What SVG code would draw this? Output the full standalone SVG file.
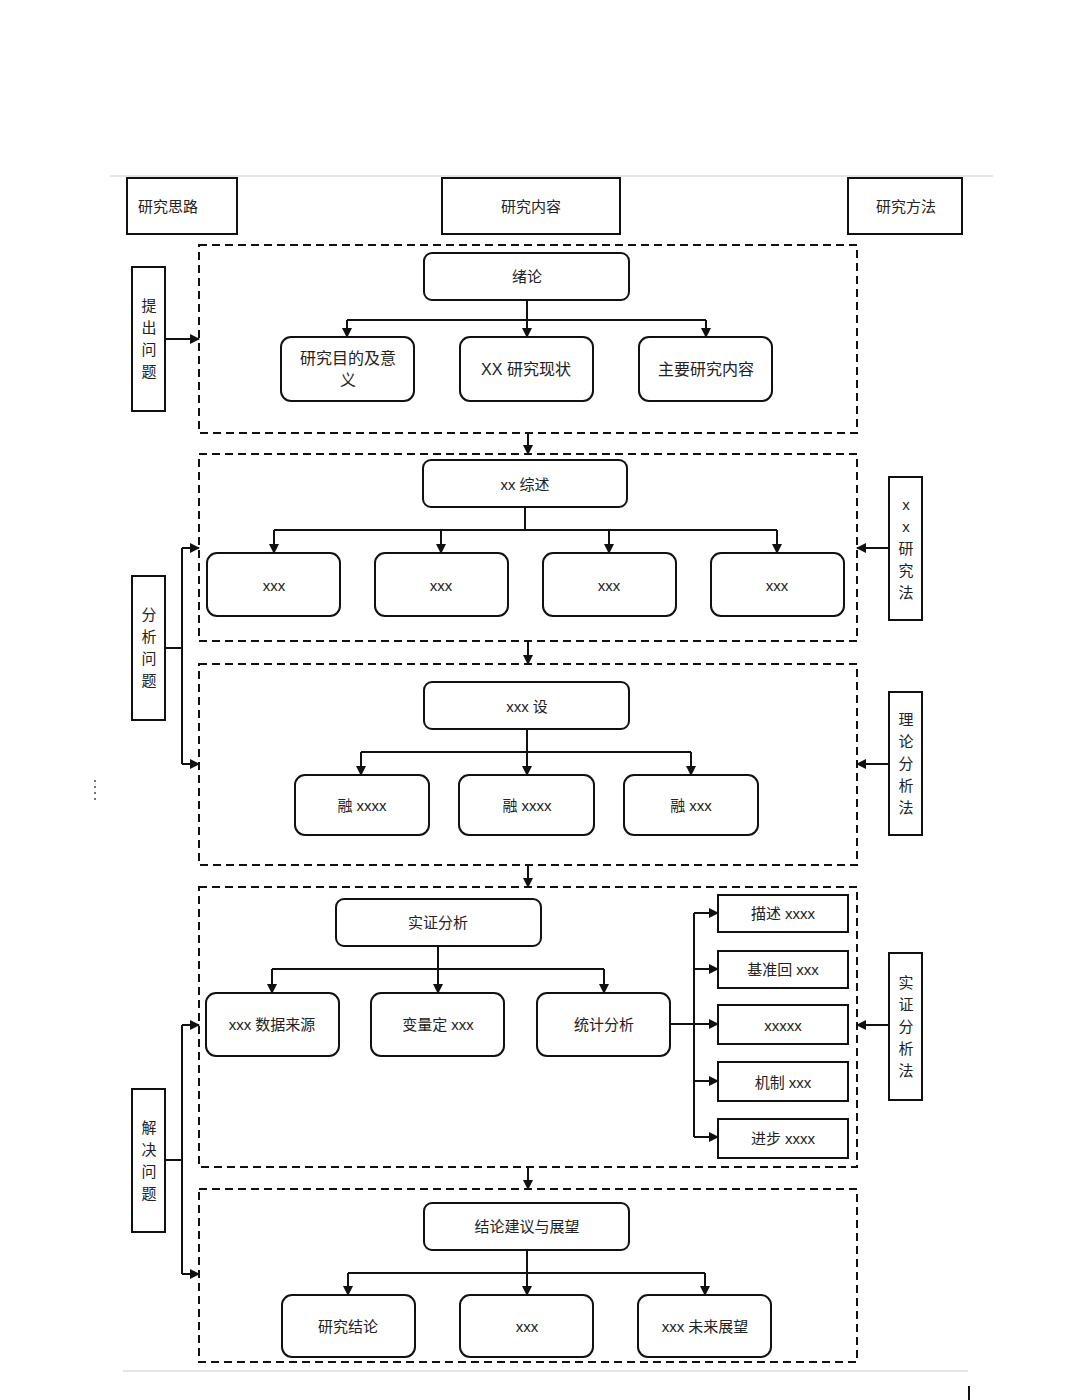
<svg xmlns="http://www.w3.org/2000/svg" width="1080" height="1400" viewBox="0 0 1080 1400">
<defs>
<marker id="a" viewBox="0 0 10 10" refX="9" refY="5" markerWidth="5" markerHeight="5" orient="auto"><path d="M0,0L10,5L0,10z" fill="#111"/></marker>
<style>
text{font-family:"Liberation Sans","Noto Sans CJK SC",sans-serif;font-size:15px;fill:#222;text-anchor:middle;dominant-baseline:central}
.r{fill:#fff;stroke:#111;stroke-width:2}
.d{fill:none;stroke:#111;stroke-width:2;stroke-dasharray:8,5}
.c{fill:none;stroke:#111;stroke-width:2}
.ca{fill:none;stroke:#111;stroke-width:2;marker-end:url(#a)}
.g{stroke:#ccc;stroke-width:1}
</style>
</defs>
<rect width="1080" height="1400" fill="#fff"/>
<line class="g" x1="110" y1="176" x2="993" y2="176"/>
<line class="g" x1="123" y1="1371" x2="968" y2="1371"/>
<line x1="969" y1="1386" x2="969" y2="1400" stroke="#111" stroke-width="2"/>
<line x1="95" y1="780" x2="95" y2="802" stroke="#777" stroke-width="2" stroke-dasharray="2,4"/>

<g id="sections">
<rect class="d" x="199" y="245" width="658" height="188"/>
<rect class="d" x="199" y="454" width="658" height="187"/>
<rect class="d" x="199" y="664" width="658" height="201"/>
<rect class="d" x="199" y="887" width="658" height="280"/>
<rect class="d" x="199" y="1189" width="658" height="173"/>
</g>

<g id="connectors">
<path class="ca" d="M528,433V454"/><path class="ca" d="M528,641V664"/><path class="ca" d="M528,865V887"/><path class="ca" d="M528,1167V1189"/>
<path class="c" d="M527,300V320M347,320H706"/><path class="ca" d="M347,320V337"/><path class="ca" d="M527,320V337"/><path class="ca" d="M706,320V337"/>
<path class="c" d="M525,507V530M274,530H777"/><path class="ca" d="M274,530V553"/><path class="ca" d="M441,530V553"/><path class="ca" d="M609,530V553"/><path class="ca" d="M777,530V553"/>
<path class="c" d="M527,729V752M361,752H691"/><path class="ca" d="M361,752V775"/><path class="ca" d="M527,752V775"/><path class="ca" d="M691,752V775"/>
<path class="c" d="M438,946V969M272,969H604"/><path class="ca" d="M272,969V993"/><path class="ca" d="M438,969V993"/><path class="ca" d="M604,969V993"/>
<path class="c" d="M670,1024H694M694,913V1137"/><path class="ca" d="M694,913H718"/><path class="ca" d="M694,969H718"/><path class="ca" d="M694,1024H718"/><path class="ca" d="M694,1081H718"/><path class="ca" d="M694,1137H718"/>
<path class="c" d="M527,1250V1273M348,1273H705"/><path class="ca" d="M348,1273V1295"/><path class="ca" d="M527,1273V1295"/><path class="ca" d="M705,1273V1295"/>
<path class="ca" d="M165,339H199"/>
<path class="c" d="M165,648H182M182,548V764"/><path class="ca" d="M182,548H199"/><path class="ca" d="M182,764H199"/>
<path class="c" d="M165,1160H182M182,1025V1274"/><path class="ca" d="M182,1025H199"/><path class="ca" d="M182,1274H199"/>
<path class="ca" d="M889,548H857"/><path class="ca" d="M889,764H857"/><path class="ca" d="M889,1025H857"/>
</g>

<g id="h1"><rect class="r" x="127" y="178" width="110" height="56"/><text x="168" y="206">研究思路</text></g>
<g id="h2"><rect class="r" x="442" y="178" width="178" height="56"/><text x="531" y="206">研究内容</text></g>
<g id="h3"><rect class="r" x="848" y="178" width="114" height="56"/><text x="906" y="206">研究方法</text></g>

<g id="n1"><rect class="r" x="424" y="253" width="205" height="47" rx="8"/><text x="527" y="276">绪论</text></g>
<g id="n1a"><rect class="r" x="281" y="337" width="133" height="64" rx="10"/><text x="348" y="358" style="font-size:16px">研究目的及意</text><text x="348" y="380" style="font-size:16px">义</text></g>
<g id="n1b"><rect class="r" x="460" y="337" width="133" height="64" rx="10"/><text x="526" y="369" style="font-size:16px">XX 研究现状</text></g>
<g id="n1c"><rect class="r" x="639" y="337" width="133" height="64" rx="10"/><text x="706" y="369" style="font-size:16px">主要研究内容</text></g>

<g id="n2"><rect class="r" x="423" y="460" width="204" height="47" rx="8"/><text x="525" y="484">xx 综述</text></g>
<g id="n2a"><rect class="r" x="207" y="553" width="133" height="63" rx="10"/><text x="274" y="585">xxx</text></g>
<g id="n2b"><rect class="r" x="375" y="553" width="133" height="63" rx="10"/><text x="441" y="585">xxx</text></g>
<g id="n2c"><rect class="r" x="543" y="553" width="133" height="63" rx="10"/><text x="609" y="585">xxx</text></g>
<g id="n2d"><rect class="r" x="711" y="553" width="133" height="63" rx="10"/><text x="777" y="585">xxx</text></g>

<g id="n3"><rect class="r" x="424" y="682" width="205" height="47" rx="8"/><text x="527" y="706">xxx 设</text></g>
<g id="n3a"><rect class="r" x="295" y="775" width="134" height="60" rx="10"/><text x="362" y="805">融 xxxx</text></g>
<g id="n3b"><rect class="r" x="459" y="775" width="135" height="60" rx="10"/><text x="527" y="805">融 xxxx</text></g>
<g id="n3c"><rect class="r" x="624" y="775" width="134" height="60" rx="10"/><text x="691" y="805">融 xxx</text></g>

<g id="n4"><rect class="r" x="336" y="899" width="205" height="47" rx="8"/><text x="438" y="922">实证分析</text></g>
<g id="n4a"><rect class="r" x="206" y="993" width="133" height="63" rx="10"/><text x="272" y="1024">xxx 数据来源</text></g>
<g id="n4b"><rect class="r" x="371" y="993" width="133" height="63" rx="10"/><text x="438" y="1024">变量定 xxx</text></g>
<g id="n4c"><rect class="r" x="537" y="993" width="133" height="63" rx="10"/><text x="604" y="1024">统计分析</text></g>
<g id="m1"><rect class="r" x="718" y="895" width="130" height="37"/><text x="783" y="913">描述 xxxx</text></g>
<g id="m2"><rect class="r" x="718" y="951" width="130" height="37"/><text x="783" y="969">基准回 xxx</text></g>
<g id="m3"><rect class="r" x="718" y="1005" width="130" height="39"/><text x="783" y="1025">xxxxx</text></g>
<g id="m4"><rect class="r" x="718" y="1062" width="130" height="39"/><text x="783" y="1082">机制 xxx</text></g>
<g id="m5"><rect class="r" x="718" y="1119" width="130" height="39"/><text x="783" y="1138">进步 xxxx</text></g>

<g id="n5"><rect class="r" x="424" y="1203" width="205" height="47" rx="8"/><text x="527" y="1226">结论建议与展望</text></g>
<g id="n5a"><rect class="r" x="282" y="1295" width="133" height="62" rx="10"/><text x="348" y="1326">研究结论</text></g>
<g id="n5b"><rect class="r" x="460" y="1295" width="133" height="62" rx="10"/><text x="527" y="1326">xxx</text></g>
<g id="n5c"><rect class="r" x="638" y="1295" width="133" height="62" rx="10"/><text x="705" y="1326">xxx 未来展望</text></g>

<g id="l1"><rect class="r" x="132" y="267" width="33" height="144"/><text x="149" y="305">提</text><text x="149" y="327">出</text><text x="149" y="349">问</text><text x="149" y="371">题</text></g>
<g id="l2"><rect class="r" x="132" y="576" width="33" height="144"/><text x="149" y="614">分</text><text x="149" y="636">析</text><text x="149" y="658">问</text><text x="149" y="680">题</text></g>
<g id="l3"><rect class="r" x="132" y="1089" width="33" height="143"/><text x="149" y="1127">解</text><text x="149" y="1149">决</text><text x="149" y="1171">问</text><text x="149" y="1193">题</text></g>
<g id="r1"><rect class="r" x="889" y="477" width="33" height="143"/><text x="906" y="504">x</text><text x="906" y="526">x</text><text x="906" y="548">研</text><text x="906" y="570">究</text><text x="906" y="592">法</text></g>
<g id="r2"><rect class="r" x="889" y="692" width="33" height="143"/><text x="906" y="719">理</text><text x="906" y="741">论</text><text x="906" y="763">分</text><text x="906" y="785">析</text><text x="906" y="807">法</text></g>
<g id="r3"><rect class="r" x="889" y="953" width="33" height="147"/><text x="906" y="982">实</text><text x="906" y="1004">证</text><text x="906" y="1026">分</text><text x="906" y="1048">析</text><text x="906" y="1070">法</text></g>
</svg>
